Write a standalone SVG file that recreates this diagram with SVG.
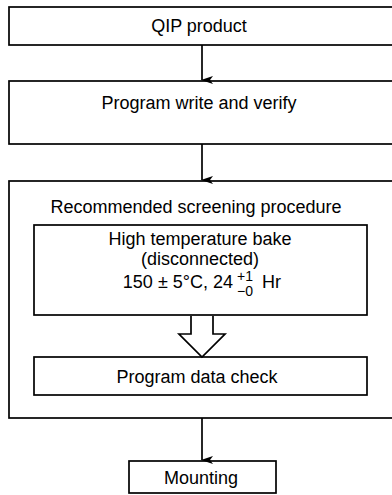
<svg xmlns="http://www.w3.org/2000/svg" width="392" height="495" viewBox="0 0 392 495">
<style>
  .box { fill: #fff; stroke: #000; stroke-width: 1.7; }
  .t { font-family: "Liberation Sans", Arial, sans-serif; font-size: 18px; fill: #000; text-anchor: middle; }
  .s { font-family: "Liberation Sans", Arial, sans-serif; font-size: 14px; fill: #000; }
  .line { stroke: #000; stroke-width: 1.7; fill: none; }
</style>
<defs>
  <marker id="ah" markerWidth="8" markerHeight="12" refX="4" refY="11" orient="auto" markerUnits="userSpaceOnUse" viewBox="0 0 8 12">
    <path d="M0,0 L4,3 L8,0 L4,12 Z" fill="#000"/>
  </marker>
</defs>
<rect width="392" height="495" fill="#fff"/>
<g id="qip">
  <rect class="box" x="9" y="7" width="400" height="38"/>
  <text class="t" x="199" y="32">QIP product</text>
</g>
<g id="program">
  <rect class="box" x="9" y="81" width="400" height="63"/>
  <text class="t" x="199" y="109">Program write and verify</text>
</g>
<g id="screening">
  <rect class="box" x="9" y="181" width="400" height="237"/>
  <text class="t" x="196" y="213">Recommended screening procedure</text>
</g>
<g id="bake">
  <rect class="box" x="34" y="225" width="333" height="90"/>
  <text class="t" x="200" y="245">High temperature bake</text>
  <text class="t" x="200" y="265">(disconnected)</text>
  <text class="t" x="233" y="288" style="text-anchor:end">150 ± 5°C, 24</text>
  <text class="s" x="237" y="281">+1</text>
  <text class="s" x="237" y="296">−0</text>
  <text class="t" x="262" y="288" style="text-anchor:start">Hr</text>
</g>
<g id="check">
  <rect class="box" x="34" y="357" width="333" height="38"/>
  <text class="t" x="197" y="383">Program data check</text>
</g>
<g id="mounting">
  <rect class="box" x="129" y="461" width="147" height="32"/>
  <text class="t" x="201" y="484">Mounting</text>
</g>
<g id="connectors">
  <line class="line" x1="202" y1="45" x2="202" y2="80" marker-end="url(#ah)"/>
  <line class="line" x1="202" y1="144" x2="202" y2="180" marker-end="url(#ah)"/>
  <path class="line" d="M191,316 L191,334 L179,334 L202,357 L225,334 L213,334 L213,316" fill="#fff"/>
  <line class="line" x1="202" y1="418" x2="202" y2="460" marker-end="url(#ah)"/>
</g>
</svg>
